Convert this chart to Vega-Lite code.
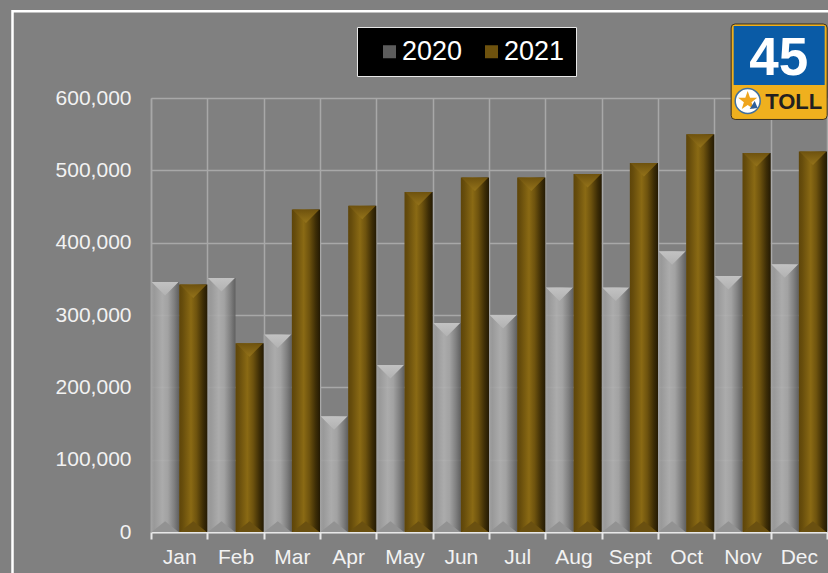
{"$schema":"https://vega.github.io/schema/vega-lite/v6.json","width":676,"height":434,"autosize":"none","padding":{"left":151,"top":98,"right":1,"bottom":41},"background":"#808080","config":{"view":{"stroke":null},"font":"Liberation Sans"},
"layer":[
{"data":{"values":[
{"month":"Jan","series":"2020","value":345600},{"month":"Feb","series":"2020","value":351000},{"month":"Mar","series":"2020","value":273000},{"month":"Apr","series":"2020","value":160000},{"month":"May","series":"2020","value":231000},{"month":"Jun","series":"2020","value":289000},{"month":"Jul","series":"2020","value":300000},{"month":"Aug","series":"2020","value":338000},{"month":"Sept","series":"2020","value":338000},{"month":"Oct","series":"2020","value":388000},{"month":"Nov","series":"2020","value":354000},{"month":"Dec","series":"2020","value":370000},
{"month":"Jan","series":"2021","value":342000},{"month":"Feb","series":"2021","value":261000},{"month":"Mar","series":"2021","value":446000},{"month":"Apr","series":"2021","value":451000},{"month":"May","series":"2021","value":470000},{"month":"Jun","series":"2021","value":490000},{"month":"Jul","series":"2021","value":490000},{"month":"Aug","series":"2021","value":495000},{"month":"Sept","series":"2021","value":510000},{"month":"Oct","series":"2021","value":550000},{"month":"Nov","series":"2021","value":524000},{"month":"Dec","series":"2021","value":526000}]},
"encoding":{"x":{"field":"month","type":"nominal","sort":null,"title":null,"scale":{"domain":["Jan","Feb","Mar","Apr","May","Jun","Jul","Aug","Sept","Oct","Nov","Dec"],"paddingInner":0,"paddingOuter":0},"axis":{"tickBand":"extent","labelAngle":0,"labelFontSize":21,"labelColor":"#f2f2f2","labelPadding":7,"grid":true,"gridColor":"#a8a8a8","gridWidth":1.5,"domainColor":"#e8e8e8","domainWidth":2,"tickColor":"#e8e8e8","tickWidth":2,"tickSize":7,"zindex":0}},"xOffset":{"field":"series","type":"nominal","scale":{"domain":["2020","2021"],"paddingInner":0,"paddingOuter":0}},"y":{"field":"value","type":"quantitative","title":null,"scale":{"domain":[0,600000],"nice":false},"axis":{"values":[0,100000,200000,300000,400000,500000,600000],"labelExpr":"format(datum.value, ',')","labelFontSize":21,"labelColor":"#f2f2f2","labelPadding":20,"tickSize":0,"domainColor":"#a8a8a8","domainWidth":1.5,"grid":true,"gridColor":"#a8a8a8","gridWidth":1.5,"zindex":0}}},
"layer":[
{"mark":{"type":"bar","opacity":0},"encoding":{"color":{"field":"series","type":"nominal","scale":{"domain":["2020","2021"],"range":["#5c5c5c","#6e520e"]},"legend":{"title":null,"orient":"none","legendX":206,"legendY":-71,"direction":"horizontal","columns":2,"fillColor":"#000000","strokeColor":"#e8e8e8","padding":11,"symbolType":"square","symbolSize":169,"symbolOpacity":1,"symbolStrokeWidth":0,"labelColor":"#ffffff","labelFontSize":27,"labelLimit":100,"columnPadding":7,"labelOffset":-1,"symbolOffset":8}}}},
{"transform":[{"filter":"datum.series==='2020'"}],"mark":{"type":"bar","opacity":0.9,"color":{"gradient":"linear","x1":0,"y1":0,"x2":1,"y2":0,"stops":[{"offset":0,"color":"#a2a2a2"},{"offset":0.12,"color":"#9c9c9c"},{"offset":0.4,"color":"#b0b0b0"},{"offset":0.6,"color":"#a6a6a6"},{"offset":0.82,"color":"#808080"},{"offset":1,"color":"#5c5c5c"}]}}},
{"transform":[{"filter":"datum.series==='2021'"}],"mark":{"type":"bar","color":{"gradient":"linear","x1":0,"y1":0,"x2":1,"y2":0,"stops":[{"offset":0,"color":"#5e4509"},{"offset":0.12,"color":"#674d0c"},{"offset":0.42,"color":"#8a6a14"},{"offset":0.62,"color":"#6e530e"},{"offset":0.85,"color":"#3d2d06"},{"offset":1,"color":"#241a03"}]}}},
{"transform":[{"filter":"datum.series==='2020'"}],"mark":{"type":"point","filled":true,"opacity":1,"size":729,"shape":"M-1,0L1,0L0,1Z","color":{"gradient":"linear","x1":0,"y1":0,"x2":0,"y2":1,"stops":[{"offset":0,"color":"#c2c2c2"},{"offset":1,"color":"#b2b2b2"}]}}},
{"transform":[{"filter":"datum.series==='2021'"}],"mark":{"type":"point","filled":true,"opacity":1,"size":729,"shape":"M-1,0L1,0L0,1Z","color":{"gradient":"linear","x1":0,"y1":0,"x2":0,"y2":1,"stops":[{"offset":0,"color":"#6e520e"},{"offset":1,"color":"#94731a"}]}}},
{"transform":[{"filter":"datum.series==='2020'"}],"mark":{"type":"point","filled":true,"opacity":1,"size":729,"shape":"M-1,0L1,0L0,-0.8Z","color":"#929292"},"encoding":{"y":{"datum":0}}},
{"transform":[{"filter":"datum.series==='2021'"}],"mark":{"type":"point","filled":true,"opacity":1,"size":729,"shape":"M-1,0L1,0L0,-0.8Z","color":"#6a5010"},"encoding":{"y":{"datum":0}}}
]},
{"data":{"values":[{"item":"frame"}]},"mark":{"type":"point","filled":false,"opacity":1,"stroke":"#ffffff","strokeWidth":2.5,"size":4,"shape":"M-138.5,600L-138.5,0L800,0"},"encoding":{"x":{"datum":"Jan","bandPosition":0},"y":{"datum":720000}}},
{"data":{"values":[{"item":"plate"}]},"mark":{"type":"point","filled":true,"opacity":1,"stroke":"#3a3020","strokeWidth":1,"size":4,"color":"#efb01e","shape":"M-44.5,-48H43.5Q47.5,-48,47.5,-44V43.5Q47.5,47.5,43.5,47.5H-44.5Q-48.5,47.5,-48.5,43.5V-44Q-48.5,-48,-44.5,-48Z"},"encoding":{"x":{"datum":"Dec","bandPosition":0.16},"y":{"datum":636000}}},
{"data":{"values":[{"item":"panel"}]},"mark":{"type":"point","filled":true,"opacity":1,"size":4,"color":"#0a5ba6","strokeWidth":0,"shape":"M-46,-46H45V13H-46Z"},"encoding":{"x":{"datum":"Dec","bandPosition":0.16},"y":{"datum":636000}}},
{"data":{"values":[{"item":"roundel"}]},"mark":{"type":"point","filled":true,"opacity":1,"size":4,"color":"#ffffff","stroke":"#3f6f9f","strokeWidth":1.5,"shape":"M-44.5,29A12.5,12.5,0,1,1,-19.5,29A12.5,12.5,0,1,1,-44.5,29Z"},"encoding":{"x":{"datum":"Dec","bandPosition":0.16},"y":{"datum":636000}}},
{"data":{"values":[{"item":"star"}]},"mark":{"type":"point","filled":true,"opacity":1,"size":4,"color":"#efa51e","strokeWidth":0,"shape":"M-32,19L-29.65,25.76L-22.5,25.9L-28.2,30.24L-26.1,37.1L-32,33L-37.9,37.1L-35.8,30.24L-41.5,25.9L-34.35,25.76Z"},"encoding":{"x":{"datum":"Dec","bandPosition":0.16},"y":{"datum":636000}}},
{"data":{"values":[{"item":"road"}]},"mark":{"type":"point","filled":true,"opacity":1,"size":4,"color":"#2f5f9a","strokeWidth":0,"shape":"M-30,37L-25,29L-22,36Z"},"encoding":{"x":{"datum":"Dec","bandPosition":0.16},"y":{"datum":636000}}},
{"data":{"values":[{"label":"45"}]},"mark":{"type":"text","font":"Liberation Sans","fontWeight":"bold","fontSize":53,"color":"#ffffff","align":"center","baseline":"alphabetic","dx":-1,"dy":3},"encoding":{"text":{"field":"label"},"x":{"datum":"Dec","bandPosition":0.16},"y":{"datum":636000}}},
{"data":{"values":[{"label":"TOLL"}]},"mark":{"type":"text","font":"Liberation Sans","fontWeight":"bold","fontSize":22,"color":"#231f20","align":"center","baseline":"middle","dx":14,"dy":30},"encoding":{"text":{"field":"label"},"x":{"datum":"Dec","bandPosition":0.16},"y":{"datum":636000}}}
]}
